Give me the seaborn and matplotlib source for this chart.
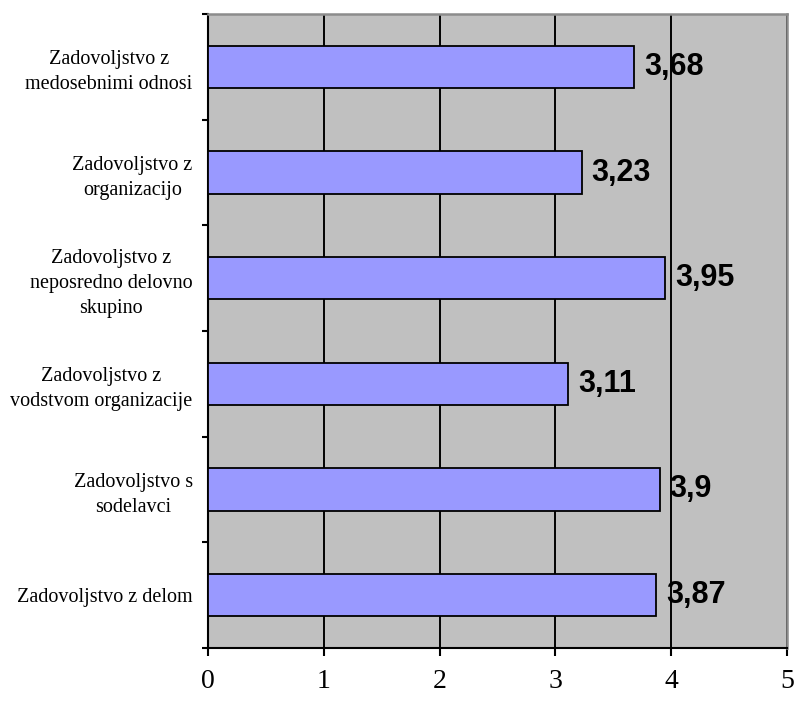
import matplotlib
matplotlib.use("Agg")
import matplotlib.pyplot as plt
import seaborn as sns
import pandas as pd
import numpy as np

# Survey satisfaction scores (scale 0-5)
categories = [
    "Zadovoljstvo z\nmedosebnimi odnosi",
    "Zadovoljstvo z\norganizacijo",
    "Zadovoljstvo z\nneposredno delovno\nskupino",
    "Zadovoljstvo z\nvodstvom organizacije",
    "Zadovoljstvo s\nsodelavci",
    "Zadovoljstvo z delom",
]
scores = [3.68, 3.23, 3.95, 3.11, 3.90, 3.87]
score_labels = ["3,68", "3,23", "3,95", "3,11", "3,9", "3,87"]
x_ticks = [0, 1, 2, 3, 4, 5]

df = pd.DataFrame({"kategorija": categories, "ocena": scores})

sns.set_style("white")
plt.rcParams["font.family"] = ["Liberation Serif", "DejaVu Serif"]
plt.rcParams["text.color"] = "black"
plt.rcParams["xtick.labelcolor"] = "black"
plt.rcParams["ytick.labelcolor"] = "black"

fig = plt.figure(figsize=(7.95, 7.04), dpi=100)
ax = fig.add_axes([208 / 795, 56 / 704, (787 - 208) / 795, (648 - 14) / 704])
ax.set_facecolor("#C0C0C0")

sns.barplot(data=df, y="kategorija", x="ocena", orient="h", color="#9999FF",
            saturation=1, width=0.4, edgecolor="black", linewidth=1.3, ax=ax,
            zorder=3)

ax.set_xlim(0, 5)
ax.set_ylim(len(categories) - 0.5, -0.5)
ax.set_xticks(x_ticks)
ax.set_xticklabels([str(t) for t in x_ticks], fontsize=20, color="black")
ax.grid(axis="x", color="black", linewidth=1.4, zorder=1)
ax.grid(axis="y", visible=False)

# category labels centred on bars, tick marks between the bars
ax.set_yticks(range(len(categories)))
ax.set_yticklabels(categories, fontsize=14.5, multialignment="center",
                   linespacing=1.4, color="black")
ax.set_yticks(np.arange(-0.5, len(categories), 1.0), minor=True)
ax.tick_params(axis="y", which="major", length=0, pad=11)
ax.tick_params(axis="y", which="minor", length=4, width=1.5, color="black",
               direction="out", left=True)
ax.tick_params(axis="x", which="major", length=6, width=1.5, color="black",
               direction="out", pad=9, bottom=True)
ax.set_xlabel("")
ax.set_ylabel("")

for side in ["left", "bottom"]:
    ax.spines[side].set_color("black")
    ax.spines[side].set_linewidth(1.5)
for side in ["top", "right"]:
    ax.spines[side].set_color("#8C8C8C")
    ax.spines[side].set_linewidth(1.8)
    ax.spines[side].set_visible(True)

for i, (v, lab) in enumerate(zip(scores, score_labels)):
    ax.annotate(lab, xy=(v, i), xytext=(7, 0), textcoords="offset points",
                ha="left", va="center", fontsize=22, fontweight="bold",
                color="black", family=["Liberation Sans", "DejaVu Sans"],
                zorder=5)

fig.savefig("out.png", dpi=100, facecolor="white")
